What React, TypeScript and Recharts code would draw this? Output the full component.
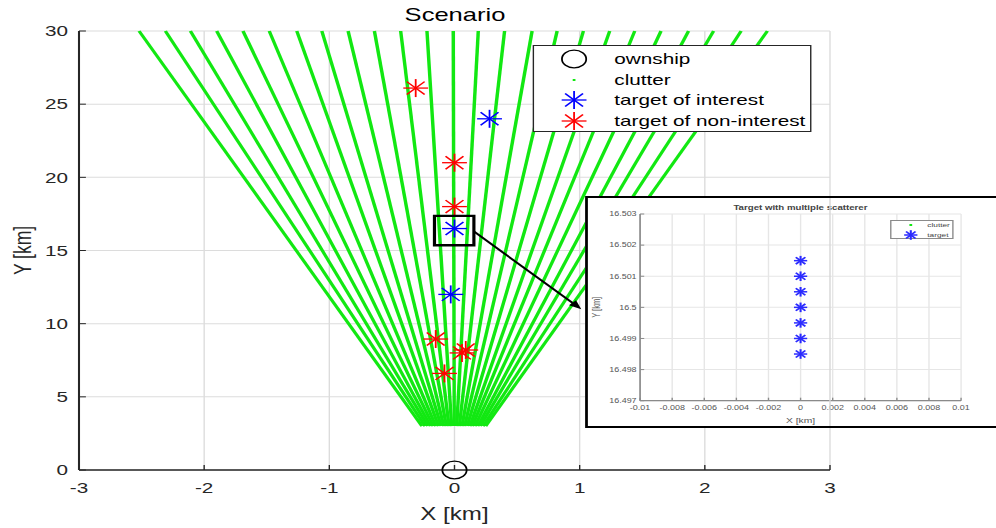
import React from 'react';
import { ScatterChart, Scatter, XAxis, YAxis, CartesianGrid, Legend } from 'recharts';

// the picture is stretched sideways, so draw narrow and widen the whole page
const S = 1.38;
const u = (v: number) => v / S;

const FONT = '"Liberation Sans", Arial, Helvetica, sans-serif';
const GREEN = '#12e812';

// clutter beams: x at y = 3 km and at y = 30 km
const beamBottomX = [-0.26, -0.235, -0.213, -0.192, -0.171, -0.15, -0.128, -0.107, -0.086, -0.065, -0.044, -0.023, -0.002, 0.018, 0.039, 0.06, 0.081, 0.102, 0.123, 0.143, 0.164, 0.186, 0.206, 0.228, 0.249];
const beamTopX = [-2.52, -2.31, -2.11, -1.9, -1.69, -1.48, -1.26, -1.06, -0.85, -0.64, -0.43, -0.22, -0.01, 0.19, 0.4, 0.62, 0.82, 1.03, 1.24, 1.44, 1.65, 1.87, 2.07, 2.29, 2.5];
const beamStartY = 3;
const beamEndY = 30;

const ownshipX = [0];
const ownshipY = [0];
const interestX = [0.28, 0, -0.03];
const interestY = [24, 16.5, 12];
const nonInterestX = [-0.31, 0, 0, -0.15, 0.06, 0.09, -0.08];
const nonInterestY = [26.1, 21, 18, 8.95, 8.0, 8.2, 6.6];

const mainXTicks = [-3, -2, -1, 0, 1, 2, 3];
const mainYTicks = [0, 5, 10, 15, 20, 25, 30];
const legendLabels = ['ownship', 'clutter', 'target of interest', 'target of non-interest'];

// zoom box and arrow
const zoomBoxX = [-0.16, 0.155];
const zoomBoxY = [15.36, 17.36];
const arrowX = [0.155, 1.013];
const arrowY = [16.3, 10.99];

// inset: the scatterers of the target
const scattererX = [0, 0, 0, 0, 0, 0, 0];
const scattererY = [16.5015, 16.501, 16.5005, 16.5, 16.4995, 16.499, 16.4985];
const insetXTicks = [-0.01, -0.008, -0.006, -0.004, -0.002, 0, 0.002, 0.004, 0.006, 0.008, 0.01];
const insetYTicks = [16.497, 16.498, 16.499, 16.5, 16.501, 16.502, 16.503];
const insetLegendLabels = ['clutter', 'target'];

const toPoints = (xs: number[], ys: number[]) => xs.map((x, i) => ({ x, y: ys[i] }));
const beams = beamTopX.map((xt, i) => [
  { x: beamBottomX[i], y: beamStartY },
  { x: xt, y: beamEndY },
]);
const boxCorners = toPoints(
  [zoomBoxX[0], zoomBoxX[1], zoomBoxX[1], zoomBoxX[0], zoomBoxX[0]],
  [zoomBoxY[0], zoomBoxY[0], zoomBoxY[1], zoomBoxY[1], zoomBoxY[0]],
);

const NoDot = () => <g />;

const makeStar = (color: string, r: number, sw: number) => (props: any) => {
  const { cx, cy } = props;
  const d = r * 0.72;
  return (
    <g stroke={color} strokeWidth={sw}>
      <line x1={cx - r} y1={cy} x2={cx + r} y2={cy} />
      <line x1={cx} y1={cy - r} x2={cx} y2={cy + r} />
      <line x1={cx - d} y1={cy - d} x2={cx + d} y2={cy + d} />
      <line x1={cx - d} y1={cy + d} x2={cx + d} y2={cy - d} />
    </g>
  );
};

const RedStar = makeStar('#ff0000', 9, 1.3);
const BlueStar = makeStar('#0000ff', 9, 1.3);
const SmallBlueStar = makeStar('#2b2bff', 4.8, 1.5);

const Ownship = (props: any) => (
  <circle cx={props.cx} cy={props.cy} r={8.8} fill="none" stroke="#000" strokeWidth={1.3} />
);

const ArrowLine = (props: any) => {
  const pts = props.points || [];
  if (pts.length < 2) return <g />;
  const { x: x1, y: y1 } = pts[0];
  const { x: x2, y: y2 } = pts[pts.length - 1];
  const dx = x2 - x1;
  const dy = y2 - y1;
  const len = Math.sqrt(dx * dx + dy * dy);
  const ux = dx / len;
  const uy = dy / len;
  const bx = x2 - ux * 9;
  const by = y2 - uy * 9;
  return (
    <g>
      <line x1={x1} y1={y1} x2={bx} y2={by} stroke="#000" strokeWidth={1.8} />
      <polygon
        points={`${x2},${y2} ${bx - uy * 3.6},${by + ux * 3.6} ${bx + uy * 3.6},${by - ux * 3.6}`}
        fill="#000"
      />
    </g>
  );
};

const SideLabel = (props: any) => {
  const { viewBox, value, shift, size, color } = props;
  const cx = viewBox.x + viewBox.width / 2 + shift;
  const cy = viewBox.y + viewBox.height / 2;
  return (
    <text
      x={cx}
      y={cy}
      transform={`rotate(-90 ${cx} ${cy})`}
      textAnchor="middle"
      dominantBaseline="central"
      fontSize={size}
      fill={color}
      fontFamily={FONT}
    >
      {value}
    </text>
  );
};

const legendMarkers = [
  <circle cx={12} cy={10} r={8.8} fill="none" stroke="#000" strokeWidth={1.3} />,
  <rect x={11} y={9} width={2} height={2} fill={GREEN} />,
  BlueStar({ cx: 12, cy: 10 }),
  RedStar({ cx: 12, cy: 10 }),
];

const MainLegend = () => (
  <div
    style={{
      position: 'relative',
      width: u(280),
      height: 87,
      boxSizing: 'border-box',
      border: '1px solid #262626',
      background: '#fff',
      fontFamily: FONT,
      fontSize: 15,
      color: '#000',
    }}
  >
    {legendLabels.map((label, i) => (
      <div key={label} style={{ position: 'absolute', left: 0, top: 3 + i * 20.7, height: 20, width: '100%' }}>
        <svg width={24} height={20} style={{ position: 'absolute', left: u(41) - 12, top: 0, overflow: 'visible' }}>
          {legendMarkers[i]}
        </svg>
        <span style={{ position: 'absolute', left: u(81), top: 0, lineHeight: '20px', whiteSpace: 'nowrap' }}>{label}</span>
      </div>
    ))}
  </div>
);

const insetMarkers = [
  <rect x={7} y={4} width={2} height={2} fill={GREEN} />,
  SmallBlueStar({ cx: 8, cy: 5 }),
];

const InsetLegend = () => (
  <div
    style={{
      position: 'relative',
      width: u(63.3),
      height: 19.3,
      boxSizing: 'border-box',
      border: '1px solid #8a8a8a',
      background: '#fff',
      fontFamily: FONT,
      fontSize: 6,
      color: '#444',
    }}
  >
    {insetLegendLabels.map((label, i) => (
      <div key={label} style={{ position: 'absolute', left: 0, top: -1 + i * 9.7, height: 10, width: '100%' }}>
        <svg width={16} height={10} style={{ position: 'absolute', left: u(18.6) - 8, top: 0, overflow: 'visible' }}>
          {insetMarkers[i]}
        </svg>
        <span style={{ position: 'absolute', left: u(35.3), top: 0, lineHeight: '10px' }}>{label}</span>
      </div>
    ))}
  </div>
);

const W = u(996);
const mainMargin = { top: 31, right: W - u(830), bottom: 28, left: u(79) - 40 };
const mainTick = { fontSize: 15, fill: '#262626', fontFamily: FONT };

const InsetW = u(430) - 4;
const InsetH = 228;
const insetMargin = { top: 16, right: InsetW - u(961 - 587.8), bottom: 11.3, left: u(640 - 587.8) - 30 };
const insetTick = { fontSize: 6.5, fill: '#555', fontFamily: FONT };

export default function App() {
  return (
    <div style={{ position: 'absolute', left: 0, top: 0, width: 996, height: 528, overflow: 'hidden', background: '#fff' }}>
      <div style={{ position: 'absolute', left: 0, top: 0, width: W, height: 528, transform: `scaleX(${S})`, transformOrigin: '0 0' }}>
        <div
          style={{
            position: 'absolute',
            left: u(455) - 100,
            width: 200,
            top: 4,
            textAlign: 'center',
            fontFamily: FONT,
            fontSize: 18.5,
            lineHeight: '22px',
            color: '#000',
          }}
        >
          Scenario
        </div>

        <div style={{ position: 'absolute', left: 0, top: 0 }}>
          <ScatterChart width={W} height={528} margin={mainMargin}>
            <CartesianGrid stroke="#dcdcdc" strokeWidth={1} />
            <XAxis
              type="number"
              dataKey="x"
              domain={[-3, 3]}
              ticks={mainXTicks}
              height={30}
              tickSize={-5}
              tickMargin={17}
              tick={mainTick}
              stroke="#262626"
              axisLine={{ stroke: '#262626', strokeWidth: 1.5 }}
              tickLine={{ stroke: '#262626' }}
              label={{ value: 'X [km]', position: 'center', dy: 29, fontSize: 17.5, fill: '#262626', fontFamily: FONT }}
            />
            <YAxis
              type="number"
              dataKey="y"
              domain={[0, 30]}
              ticks={mainYTicks}
              width={40}
              tickSize={-5}
              tickMargin={12.9}
              tick={mainTick}
              stroke="#262626"
              axisLine={{ stroke: '#262626', strokeWidth: 1.5 }}
              tickLine={{ stroke: '#262626' }}
              label={<SideLabel value="Y [km]" shift={u(22) - (u(79) - 20)} size={17.5} color="#262626" />}
            />
            {beams.map((b, i) => (
              <Scatter
                key={`beam-${i}`}
                data={b}
                line={{ stroke: GREEN, strokeWidth: 2.5 }}
                shape={NoDot}
                legendType="none"
                isAnimationActive={false}
              />
            ))}
            <Scatter data={toPoints(nonInterestX, nonInterestY)} shape={RedStar} isAnimationActive={false} />
            <Scatter data={toPoints(interestX, interestY)} shape={BlueStar} isAnimationActive={false} />
            <Scatter data={toPoints(ownshipX, ownshipY)} shape={Ownship} isAnimationActive={false} />
            <Scatter
              data={boxCorners}
              line={{ stroke: '#000', strokeWidth: 2.3, strokeLinecap: 'square' }}
              shape={NoDot}
              isAnimationActive={false}
            />
            <Scatter data={toPoints(arrowX, arrowY)} line={ArrowLine} shape={NoDot} isAnimationActive={false} />
            <Legend
              layout="vertical"
              align="center"
              verticalAlign="middle"
              content={<MainLegend />}
              wrapperStyle={{ left: u(532), top: 45, right: 'auto', bottom: 'auto', width: u(280), height: 87 }}
            />
          </ScatterChart>
        </div>

        <div
          style={{
            position: 'absolute',
            left: u(585),
            top: 196,
            width: u(430),
            height: 232,
            boxSizing: 'border-box',
            border: '2px solid #000',
            background: '#fff',
          }}
        >
          <div
            style={{
              position: 'absolute',
              left: 0,
              width: InsetW,
              top: 4,
              textAlign: 'center',
              fontFamily: FONT,
              fontSize: 7,
              fontWeight: 'bold',
              lineHeight: '12px',
              color: '#444',
              paddingLeft: insetMargin.left + 30 - insetMargin.right,
              boxSizing: 'border-box',
            }}
          >
            Target with multiple scatterer
          </div>
          <div style={{ position: 'absolute', left: 0, top: 0 }}>
            <ScatterChart width={InsetW} height={InsetH} margin={insetMargin}>
              <CartesianGrid stroke="#e6e6e6" strokeWidth={1} />
              <XAxis
                type="number"
                dataKey="x"
                domain={[-0.01, 0.01]}
                ticks={insetXTicks}
                interval={0}
                height={14}
                tickSize={-3}
                tickMargin={8}
                tick={insetTick}
                tickFormatter={(v: number) => String(v)}
                axisLine={{ stroke: '#8a8a8a', strokeWidth: 1.2 }}
                tickLine={{ stroke: '#8a8a8a' }}
                label={{ value: 'X [km]', position: 'center', dy: 12.3, fontSize: 7.5, fill: '#555', fontFamily: FONT }}
              />
              <YAxis
                type="number"
                dataKey="y"
                domain={[16.497, 16.503]}
                ticks={insetYTicks}
                interval={0}
                width={30}
                tickSize={-3}
                tickMargin={5.5}
                tick={insetTick}
                tickFormatter={(v: number) => String(v)}
                axisLine={{ stroke: '#8a8a8a', strokeWidth: 1.2 }}
                tickLine={{ stroke: '#8a8a8a' }}
                label={<SideLabel value="Y [km]" shift={-16.4} size={7.5} color="#555" />}
              />
              <Scatter data={toPoints(scattererX, scattererY)} shape={SmallBlueStar} isAnimationActive={false} />
              <Legend
                layout="vertical"
                align="center"
                verticalAlign="middle"
                content={<InsetLegend />}
                wrapperStyle={{ left: u(890.7 - 587.8), top: 22, right: 'auto', bottom: 'auto', width: u(63.3), height: 19.3 }}
              />
            </ScatterChart>
          </div>
        </div>

        {/* main grid shows through the inset in the source */}
        <div
          style={{
            position: 'absolute',
            left: 0,
            top: 0,
            pointerEvents: 'none',
            clipPath: `inset(198px 0px 102px ${u(588)}px)`,
          }}
        >
          <ScatterChart width={W} height={528} margin={mainMargin}>
            <CartesianGrid stroke="#d6d6d6" strokeWidth={1} />
            <XAxis type="number" dataKey="x" domain={[-3, 3]} ticks={mainXTicks} height={30} tick={false} axisLine={false} tickLine={false} />
            <YAxis type="number" dataKey="y" domain={[0, 30]} ticks={mainYTicks} width={40} tick={false} axisLine={false} tickLine={false} />
          </ScatterChart>
        </div>
      </div>
    </div>
  );
}
